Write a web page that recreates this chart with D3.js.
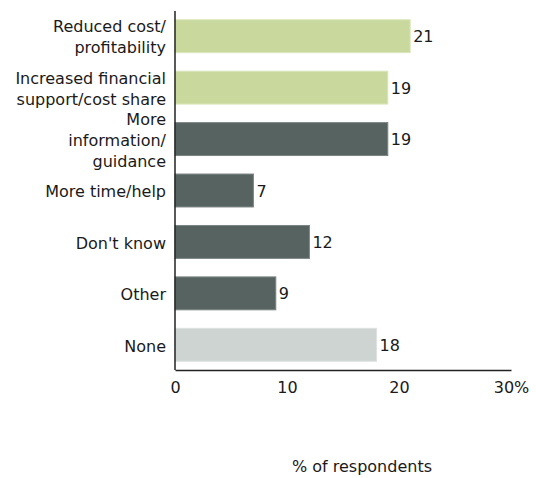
<!DOCTYPE html>
<html>
<head>
<meta charset="utf-8">
<script src="https://cdn.jsdelivr.net/npm/d3@7"></script>
<style>
  html, body { margin: 0; padding: 0; background: #fff; }
  svg text { font-family: "DejaVu Sans", sans-serif; fill: #1a1a1a; }
</style>
</head>
<body>
<svg id="chart" width="536" height="478"></svg>
<script>
// Survey responses: what would encourage adoption
const categories = [
  ["Reduced cost/", "profitability"],
  ["Increased financial", "support/cost share"],
  ["More", "information/", "guidance"],
  ["More time/help"],
  ["Don't know"],
  ["Other"],
  ["None"]
];
const values = [21, 19, 19, 7, 12, 9, 18];
const groups = ["green", "green", "dark", "dark", "dark", "dark", "light"];
const tickValues = [0, 10, 20, 30];
const tickLabels = ["0", "10", "20", "30%"];
const axisTitle = "% of respondents";

const colors = { green: "#c9d89c", dark: "#566361", light: "#cdd4d2" };
const strokes = { green: "#dbe6bd", dark: "#7a8583", light: "#dde2e0" };

const svg = d3.select("#chart");
const plotLeft = 175, plotRight = 511, plotTop = 11, plotBottom = 370;

const x = d3.scaleLinear().domain([0, 30]).range([plotLeft, plotRight]);
const y = d3.scaleBand()
  .domain(d3.range(values.length))
  .range([plotTop, plotBottom])
  .paddingInner(0.36)
  .paddingOuter(0.17);

// bars
svg.append("g").selectAll("rect")
  .data(values)
  .join("rect")
  .attr("x", x(0))
  .attr("y", (d, i) => y(i))
  .attr("width", d => x(d) - x(0))
  .attr("height", y.bandwidth())
  .attr("fill", (d, i) => colors[groups[i]])
  .attr("stroke", (d, i) => strokes[groups[i]])
  .attr("stroke-width", 1);

// value labels
svg.append("g").selectAll("text")
  .data(values)
  .join("text")
  .attr("x", d => x(d) + 3)
  .attr("y", (d, i) => y(i) + y.bandwidth() / 2)
  .attr("dy", "0.38em")
  .attr("font-size", 16)
  .text(d => d);

// category labels
const lineH = 21;
const catG = svg.append("g");
categories.forEach((lines, i) => {
  const cy = y(i) + y.bandwidth() / 2 + 1;
  const t = catG.append("text")
    .attr("text-anchor", "end")
    .attr("font-size", 16);
  lines.forEach((ln, j) => {
    t.append("tspan")
      .attr("x", 166)
      .attr("y", cy + (j - (lines.length - 1) / 2) * lineH)
      .attr("dy", "0.36em")
      .text(ln);
  });
});

// y axis line
svg.append("line")
  .attr("x1", plotLeft).attr("x2", plotLeft)
  .attr("y1", plotTop).attr("y2", plotBottom)
  .attr("stroke", "#222").attr("stroke-width", 1.5);

// x axis
const xAxis = d3.axisBottom(x)
  .tickValues(tickValues)
  .tickSize(0)
  .tickPadding(12)
  .tickFormat((d, i) => tickLabels[i]);
const gx = svg.append("g")
  .attr("transform", `translate(0,${plotBottom})`)
  .call(xAxis);
gx.select(".domain").attr("stroke", "#222").attr("stroke-width", 1.5);
gx.selectAll("text")
  .attr("font-size", 16)
  .attr("font-family", "DejaVu Sans, sans-serif")
  .attr("fill", "#1a1a1a");

// axis title
svg.append("text")
  .attr("x", 362)
  .attr("y", 472)
  .attr("text-anchor", "middle")
  .attr("font-size", 16)
  .text(axisTitle);
</script>
</body>
</html>
